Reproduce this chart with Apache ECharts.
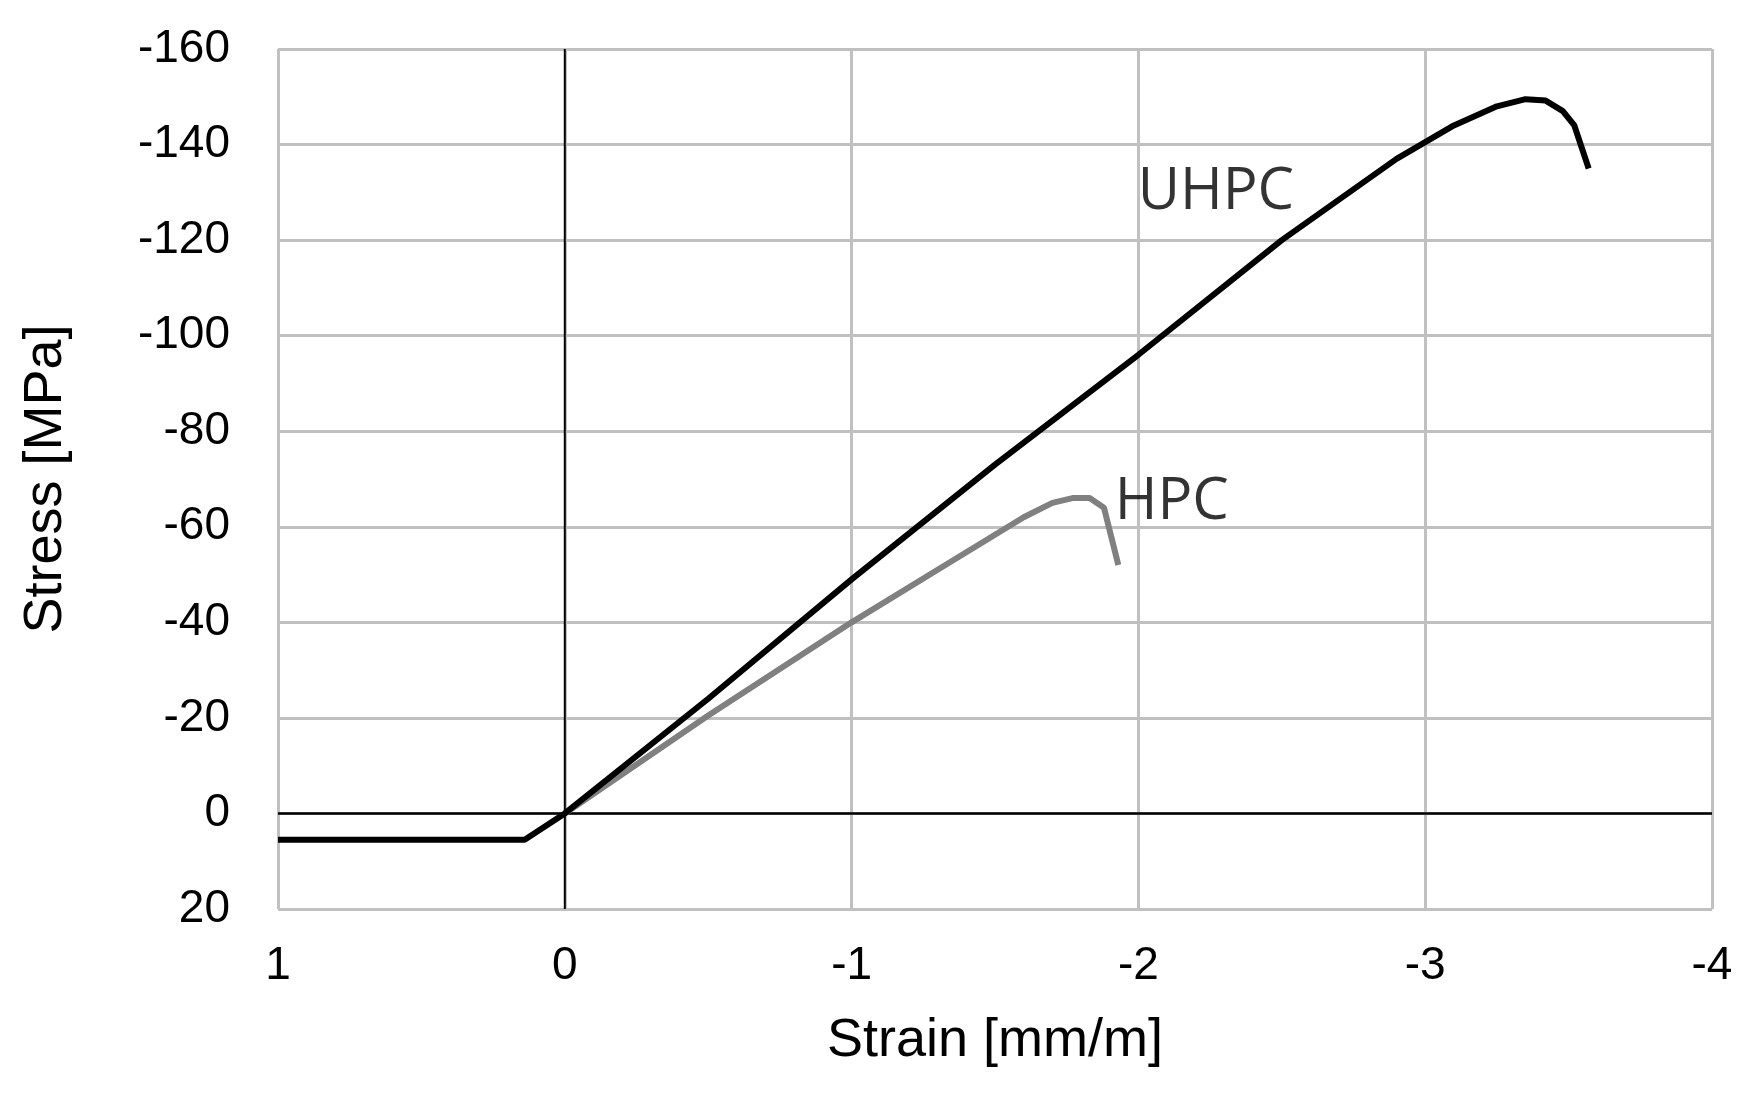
<!DOCTYPE html>
<html><head><meta charset="utf-8">
<script src="https://cdn.jsdelivr.net/npm/echarts@6/dist/echarts.min.js"></script>
<style>html,body{margin:0;background:#fff}#c{width:1760px;height:1094px}</style>
</head><body><div id="c"></div>
<script>
const uhpc = [[1,5.5],[0.14,5.5],[0,0],[-0.5,-24],[-1,-49],[-1.5,-73],[-2,-96],[-2.5,-120],[-2.9,-137],[-3.1,-144],[-3.25,-148],[-3.35,-149.5],[-3.42,-149.2],[-3.48,-147],[-3.52,-144],[-3.57,-135]];
const hpc = [[0,0],[-0.5,-20.5],[-1,-40],[-1.3,-51],[-1.6,-62],[-1.7,-65],[-1.77,-66],[-1.83,-66],[-1.88,-64],[-1.93,-52]];
const labels = [["UHPC",-1.98,-130],["HPC",-1.9,-65]];
const xTicks = [1,0,-1,-2,-3,-4];
const yTicks = [-160,-140,-120,-100,-80,-60,-40,-20,0,20];
const chart = echarts.init(document.getElementById('c'));
const tickFont = {fontFamily:'Liberation Sans',fontSize:46,color:'#000'};
chart.setOption({
  animation:false,
  grid:{left:278,right:48,top:49,bottom:185},
  xAxis:{type:'value',min:-4,max:1,interval:1,inverse:true,
    name:'Strain [mm/m]',nameLocation:'middle',nameGap:105,
    nameTextStyle:{fontFamily:'Liberation Sans',fontSize:54,color:'#000'},
    axisLine:{onZero:false,show:false},axisTick:{show:false},
    axisLabel:Object.assign({margin:34},tickFont),
    splitLine:{lineStyle:{color:'#c0c0c0',width:3}}},
  yAxis:{type:'value',min:-160,max:20,interval:20,inverse:true,
    name:'Stress [MPa]',nameLocation:'middle',nameGap:205,nameRotate:90,
    nameTextStyle:{fontFamily:'Liberation Sans',fontSize:54,color:'#000'},
    axisLine:{onZero:false,show:false},axisTick:{show:false},
    axisLabel:Object.assign({margin:48},tickFont),
    splitLine:{lineStyle:{color:'#c0c0c0',width:3}}},
  series:[
    {type:'line',data:[[1,0],[-4,0]],symbol:'none',lineStyle:{color:'#000',width:2.5},silent:true,z:1},
    {type:'line',data:[[0,20],[0,-160]],symbol:'none',lineStyle:{color:'#000',width:2},silent:true,z:1},
    {type:'line',name:'HPC',data:hpc,symbol:'none',lineStyle:{color:'#808080',width:6},z:2},
    {type:'line',name:'UHPC',data:uhpc,symbol:'none',lineStyle:{color:'#000',width:6},z:3},
    {type:'scatter',data:labels.map(l=>({value:[l[1],l[2]],name:l[0]})),symbolSize:0,
      label:{show:true,position:'right',formatter:p=>p.name,
        fontFamily:'Open Sans',fontSize:58,color:'#000'}}
  ]
});
</script></body></html>
